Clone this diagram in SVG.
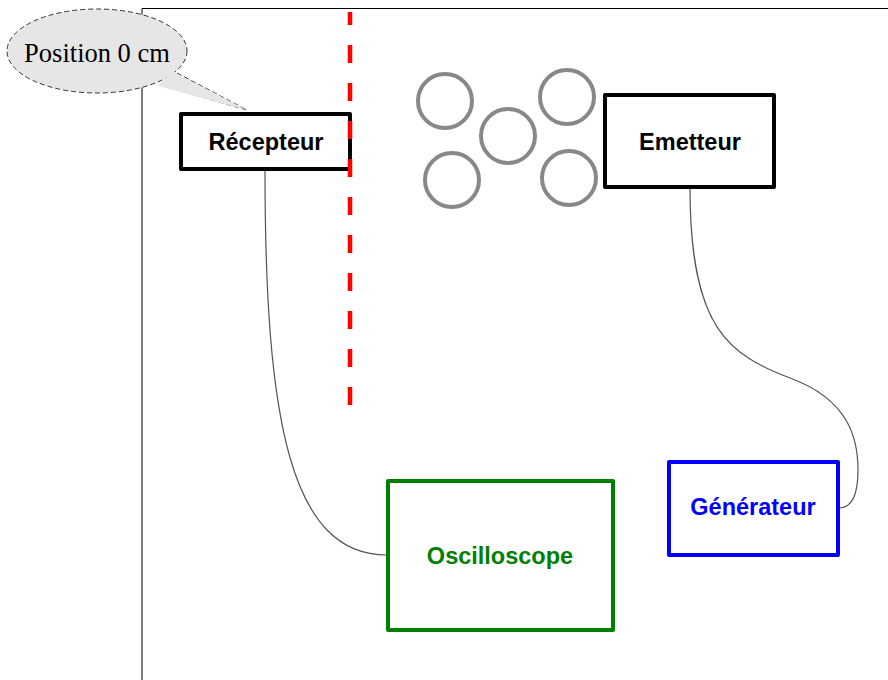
<svg xmlns="http://www.w3.org/2000/svg" width="888" height="680" viewBox="0 0 888 680">
<style>
.box{fill:#fff;stroke-width:4;stroke-linejoin:round}
.lbl{font-family:"Liberation Sans",Arial,sans-serif;font-weight:bold;font-size:23.5px;text-anchor:middle}
.ring{fill:none;stroke:#888;stroke-width:4}
.wire{fill:none;stroke:#555;stroke-width:1.2}
</style>
<rect width="888" height="680" fill="#fff"/>
<g id="frame">
<path d="M142,680 V8.5 H888" fill="none" stroke="#000" stroke-width="1"/>
</g>
<g id="obstacles">
<circle class="ring" cx="445" cy="101" r="27"/>
<circle class="ring" cx="508" cy="136" r="27"/>
<circle class="ring" cx="567" cy="97" r="27"/>
<circle class="ring" cx="452" cy="180" r="27"/>
<circle class="ring" cx="569" cy="178" r="27"/>
</g>
<g id="connectors">
<path class="wire" d="M265,170 C265,420 290,555 387,555"/>
<path class="wire" d="M690,188 C690,330 730,355 790,378 C850,400 858,440 858,470 C858,495 852,508 839,508"/>
</g>
<g id="recepteur">
<rect class="box" x="181" y="114" width="169" height="55" stroke="#000"/>
<text class="lbl" x="266" y="150" fill="#000">Récepteur</text>
</g>
<g id="emetteur">
<rect class="box" x="605" y="95" width="169" height="92" stroke="#000"/>
<text class="lbl" x="690" y="150" fill="#000">Emetteur</text>
</g>
<g id="oscilloscope">
<rect class="box" x="388" y="481" width="225" height="149" stroke="#008000"/>
<text class="lbl" x="500" y="564" fill="#008000">Oscilloscope</text>
</g>
<g id="generateur">
<rect class="box" x="669" y="462" width="169" height="93" stroke="#0000ff"/>
<text class="lbl" x="753" y="515" fill="#0000ff">Générateur</text>
</g>
<g id="position-line">
<line x1="350" y1="12" x2="350" y2="405" stroke="#ff0000" stroke-width="4.5" stroke-dasharray="18 20" stroke-dashoffset="-33"/>
</g>
<g id="callout">
<path d="M177,73 L247,110 L160,85" fill="#e6e6e6" stroke="#333" stroke-width="1" stroke-dasharray="5 3"/>
<ellipse cx="97" cy="51" rx="90" ry="42" fill="#e6e6e6" stroke="#333" stroke-width="1" stroke-dasharray="5 3"/>
<path d="M172,71 L247,110 L158,86 Z" fill="#e6e6e6" stroke="none"/>
<text x="97" y="62" font-family="'Liberation Serif','Times New Roman',serif" font-size="26.5" text-anchor="middle" fill="#000">Position 0 cm</text>
</g>
</svg>
